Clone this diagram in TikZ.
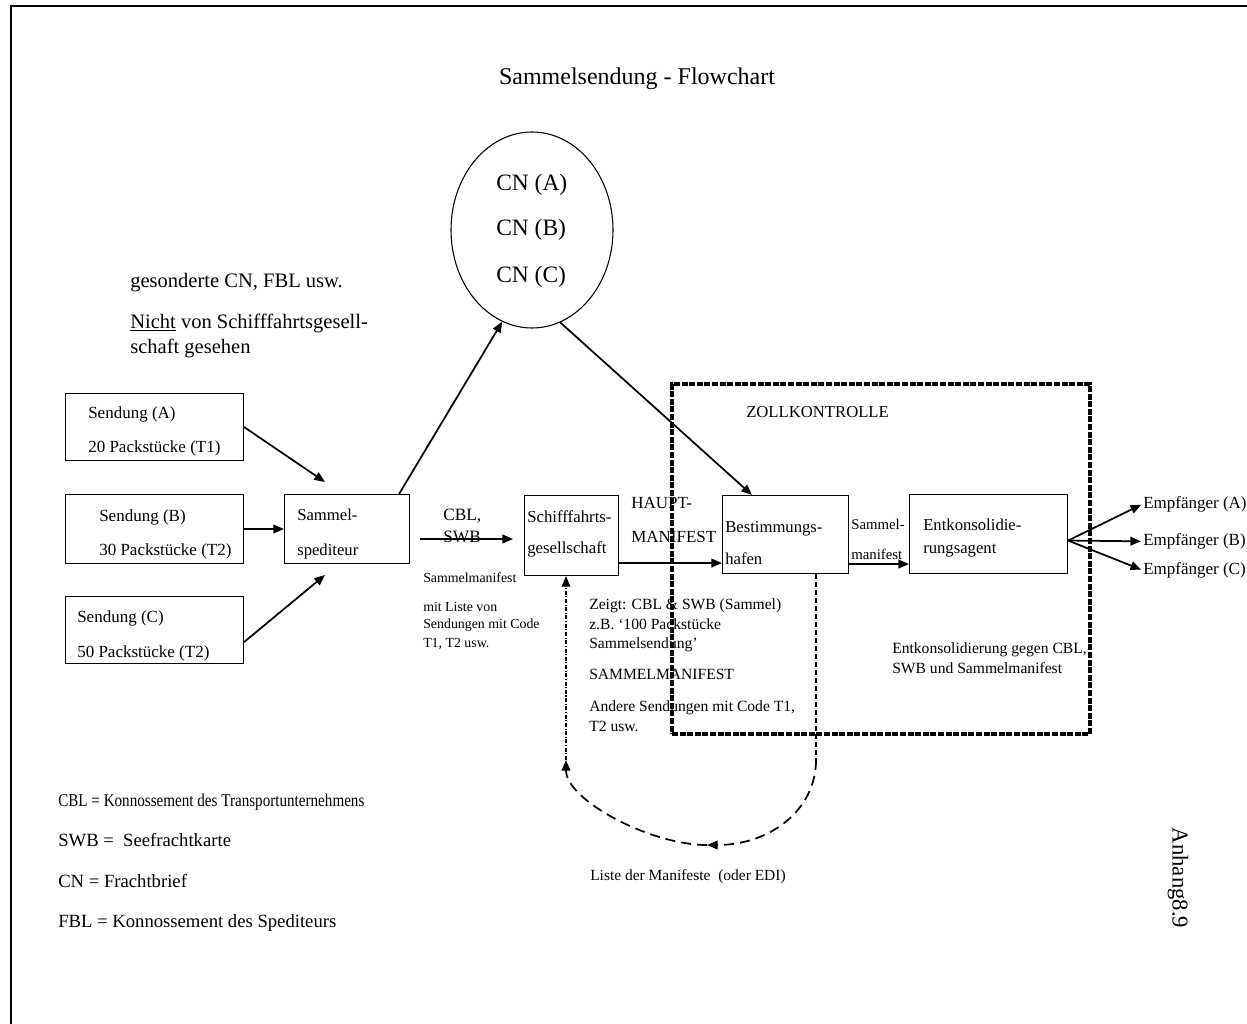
\documentclass[tikz,border=0pt]{standalone}
\usepackage{graphicx}
\usepackage{fontspec}
\setmainfont{Liberation Serif}
\usetikzlibrary{arrows.meta,shapes.geometric,calc}
\begin{document}
\begin{tikzpicture}[x=0.75pt,y=-0.75pt,
  box/.style 2 args={draw,line width=0.8pt,inner sep=0pt,anchor=north west,
    minimum width=#1*0.75pt,minimum height=#2*0.75pt},
  txt/.style={anchor=base west,inner sep=0pt,font=\fontsize{#1}{#1}\selectfont},
  arr/.style={line width=1.3pt,-{Triangle[length=8pt,width=6.5pt]}},
  retdash/.style={line width=1.3pt,dash pattern=on 7.5pt off 4.5pt,-{Triangle[length=8pt,width=6.5pt]}},
]
\useasboundingbox (0,0) rectangle (1247,1024);
% outer frame
\draw[line width=1.6pt] (11,1024) -- (11,6) -- (1247,6);

\node[txt=18pt,anchor=base] (title) at (637,85) {Sammelsendung - Flowchart};

% consignment notes
\node[draw,ellipse,line width=0.8pt,inner sep=0pt,
  minimum width=162*0.75pt,minimum height=196*0.75pt] (cn) at (532,230) {};
\node[txt=17.6pt] (cna) at (496,190.5) {CN (A)};
\node[txt=17.6pt] (cnb) at (496,235.5) {CN (B)};
\node[txt=17.6pt] (cnc) at (496,282.5) {CN (C)};

\node[txt=15.4pt] (ges1) at (130,287.5) {gesonderte CN, FBL usw.};
\node[txt=15.4pt] (ges2) at (130,328.5) {\underline{Nicht} von Schifffahrtsgesell-};
\node[txt=15.4pt] (ges3) at (130,353.5) {schaft gesehen};

% boxes
\node[box={178}{67}] (sa) at (65,393) {};
\node[box={178}{69}] (sb) at (65,494) {};
\node[box={178}{67}] (sc) at (65,596) {};
\node[box={125}{69}] (ss) at (284,494) {};
\node[box={94}{80}]  (sg) at (524,495) {};
\node[box={126}{78}] (bh) at (722,495) {};
\node[box={158}{79}] (ek) at (909,494) {};

\node[txt=12.75pt] (sa1) at (88,418.5) {Sendung (A)};
\node[txt=12.75pt] (sa2) at (88,452.5) {20 Packstücke (T1)};
\node[txt=12.75pt] (sb1) at (99,521) {Sendung (B)};
\node[txt=12.75pt] (sb2) at (99,555.5) {30 Packstücke (T2)};
\node[txt=12.75pt] (sc1) at (77,622) {Sendung (C)};
\node[txt=12.75pt] (sc2) at (77,657) {50 Packstücke (T2)};
\node[txt=12.5pt] (ss1) at (297,520.5) {Sammel-};
\node[txt=12.5pt] (ss2) at (297,555.5) {spediteur};
\node[txt=13pt] (cbl1) at (443,520) {CBL,};
\node[txt=13pt] (cbl2) at (443,542) {SWB};
\node[txt=12.6pt] (sg1) at (527,522.5) {Schifffahrts-};
\node[txt=12.6pt] (sg2) at (527,553.5) {gesellschaft};
\node[txt=12.75pt] (hm1) at (631,508) {HAUPT-};
\node[txt=12.75pt] (hm2) at (631,542.5) {MANIFEST};
\node[txt=12.5pt] (bh1) at (725,532) {Bestimmungs-};
\node[txt=12.5pt] (bh2) at (725,564.5) {hafen};
\node[txt=12.5pt] (zl) at (746,417) {ZOLLKONTROLLE};
\node[txt=11.1pt] (sm1) at (851,529) {Sammel-};
\node[txt=11.1pt] (sm2) at (851,559) {manifest};
\node[txt=12.5pt] (ek1) at (923,530.5) {Entkonsolidie-};
\node[txt=12.5pt] (ek2) at (923,553.5) {rungsagent};
\node[txt=12.75pt] (empA) at (1143,508) {Empfänger (A)};
\node[txt=12.75pt] (empB) at (1143,545.5) {Empfänger (B)};
\node[txt=12.75pt] (empC) at (1143,574.5) {Empfänger (C)};

% notes
\node[txt=10.4pt] (n1) at (423,582.5) {Sammelmanifest};
\node[txt=10.4pt] (n2) at (423,611) {mit Liste von};
\node[txt=10.4pt] (n3) at (423,628.5) {Sendungen mit Code};
\node[txt=10.4pt] (n4) at (423,647) {T1, T2 usw.};
\node[txt=11.7pt] (z1) at (589,609) {Zeigt: CBL \& SWB (Sammel)};
\node[txt=11.7pt] (z2) at (589,629) {z.B. ‘100 Packstücke};
\node[txt=11.7pt] (z3) at (589,648) {Sammelsendung’};
\node[txt=11.7pt] (z4) at (589,679) {SAMMELMANIFEST};
\node[txt=11.7pt] (z5) at (589,711) {Andere Sendungen mit Code T1,};
\node[txt=11.7pt] (z6) at (589,731) {T2 usw.};
\node[txt=11.7pt] (e1) at (892,653) {Entkonsolidierung gegen CBL,};
\node[txt=11.7pt] (e2) at (892,673) {SWB und Sammelmanifest};
\node[txt=11.6pt] (lm) at (590,880) {Liste der Manifeste\ \ (oder EDI)};

% legend
\node[txt=13.5pt] (l1) at (58,806) {\scalebox{0.84}[1]{CBL = Konnossement des Transportunternehmens}};
\node[txt=14pt] (l2) at (58,846) {SWB =\ \ Seefrachtkarte};
\node[txt=14pt] (l3) at (58,887) {CN = Frachtbrief};
\node[txt=14pt] (l4) at (58,927) {FBL = Konnossement des Spediteurs};

\node[rotate=-90,inner sep=0pt,font=\fontsize{17pt}{17pt}\selectfont] (anh) at (1178,878) {Anhang8.9};

% connectors
\coordinate (tA) at (325,482);
\coordinate (tC) at (325,575);
\draw[arr] (sa.east) -- (tA);
\draw[arr] (sb.east) -- (ss.west);
\draw[arr] ([yshift=16.5pt]sc.south east) -- (tC);
\draw[arr] ([xshift=-8.25pt]ss.north east) -- (cn.252);
\draw[arr] (cn.-73) -- ([xshift=22.5pt]bh.north west);
\coordinate (c1) at (420,539);
\coordinate (c2) at (513,539);
\draw[arr] (c1) -- (c2);
\coordinate (m1) at ($(sg.south east)+(0,-13)$);
\draw[arr] (m1) -- (m1 -| bh.west);
\coordinate (m2) at ($(bh.south east)+(0,-10)$);
\draw[arr] (m2) -- (m2 -| ek.west);
\coordinate (f0) at ($(ek.east)+(0,6.5)$);
\draw[arr,shorten >=1.5pt] (f0) -- (empA.west);
\draw[arr,shorten >=1.5pt] (f0) -- (empB.west);
\draw[arr,shorten >=1.5pt] (f0) -- (empC.west);

% manifest list loop
\coordinate (r0) at ($(bh.south west)+(94,0)$);
\coordinate (r1) at (816,760);
\coordinate (r2) at (707,845);
\coordinate (r4) at ($(sg.south west)+(42,0)$);
\coordinate (r3) at (r4 |- r1);
\draw[line width=0.8pt,dash pattern=on 4pt off 2pt] (r0) -- (r1);
\draw[retdash] (r1) .. controls (816,810) and (770,845) .. (r2);
\draw[retdash] (r2) .. controls (650,845) and (566,800) .. (r3);
\draw[line width=0.8pt,dash pattern=on 3pt off 1.2pt on 0.8pt off 1.2pt,
  -{Triangle[length=8pt,width=6.5pt]}] (r3) -- (r4);

% customs control area
\node[box={418}{350},line width=3pt,dash pattern=on 4.5pt off 1.2pt] (zoll) at (670,382) {};
\end{tikzpicture}
\end{document}
